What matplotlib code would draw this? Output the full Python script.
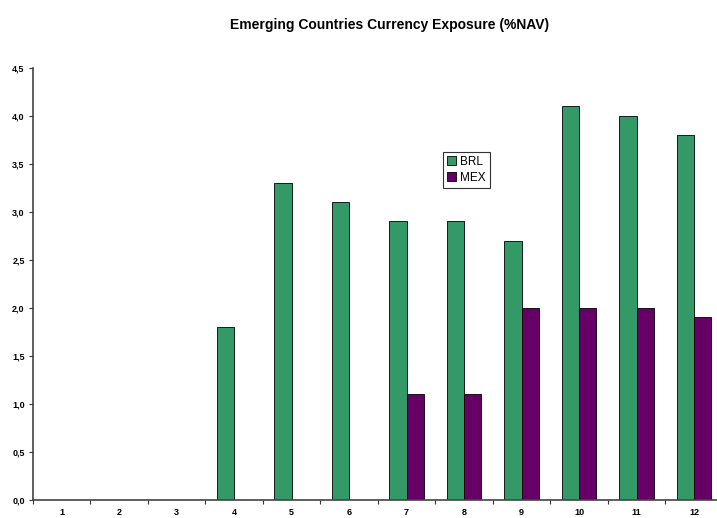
import numpy as np
import matplotlib.pyplot as plt
from matplotlib.ticker import FuncFormatter, MultipleLocator

plt.rcParams['font.family'] = ['Liberation Sans', 'DejaVu Sans']

months = ['1', '2', '3', '4', '5', '6', '7', '8', '9', '10', '11', '12']
brl = [0, 0, 0, 1.8, 3.3, 3.1, 2.9, 2.9, 2.7, 4.1, 4.0, 3.8]
mex = [0, 0, 0, 0, 0, 0, 1.1, 1.1, 2.0, 2.0, 2.0, 1.9]

fig = plt.figure(figsize=(7.17, 5.18), dpi=100)
ax = fig.add_axes([0.046, 0.035, 0.962, 0.834])

x = np.arange(len(months))
w = 0.3
ax.bar(x - w / 2, brl, w, color='#339966', edgecolor='black', linewidth=0.6, label='BRL')
ax.bar(x + w / 2, mex, w, color='#660066', edgecolor='black', linewidth=0.6, label='MEX')

ax.set_xlim(-0.5, 11.5)
ax.set_ylim(0, 4.5)
ax.yaxis.set_major_locator(MultipleLocator(0.5))
ax.yaxis.set_major_formatter(FuncFormatter(lambda v, p: f'{v:.1f}'.replace('.', ',')))

ax.set_xticks(x)
ax.set_xticklabels(months)
ax.set_xticks(np.arange(-0.5, 12, 1), minor=True)
ax.tick_params(axis='x', which='major', length=0, pad=6)
ax.tick_params(axis='x', which='minor', length=3, width=0.8, color='#333333')
ax.tick_params(axis='y', length=3, width=0.8, color='#333333', pad=3)
for lab in ax.get_xticklabels() + ax.get_yticklabels():
    lab.set_fontsize(6.5)
    lab.set_fontweight('bold')

for s in ['top', 'right']:
    ax.spines[s].set_visible(False)
for s in ['left', 'bottom']:
    ax.spines[s].set_color('#444444')
    ax.spines[s].set_linewidth(1.2)

leg = ax.legend(loc='upper left', bbox_to_anchor=(0.594, 0.806), borderaxespad=0,
                fontsize=8.5, frameon=True, fancybox=False, edgecolor='black',
                handlelength=0.8, handleheight=0.8, handletextpad=0.3,
                borderpad=0.35, labelspacing=0.35)
leg.get_frame().set_linewidth(0.8)

fig.text(0.544, 0.952, 'Emerging Countries Currency Exposure (%NAV)',
         ha='center', va='center', fontsize=10, fontweight='bold')

fig.savefig('out.png', dpi=100)
